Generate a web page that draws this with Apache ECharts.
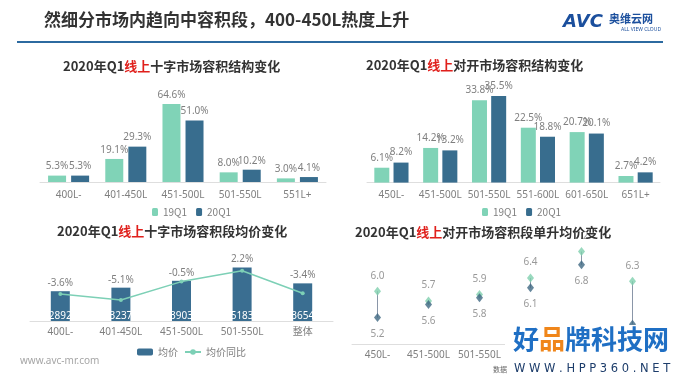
<!DOCTYPE html>
<html><head><meta charset="utf-8">
<script src="https://cdn.jsdelivr.net/npm/echarts@6/dist/echarts.min.js"></script>
<style>html,body{margin:0;padding:0;background:#fff}#c{width:680px;height:383px}</style>
</head><body><div id="c"></div>
<script>
// ---- data ----
const catsA = ['400L-','401-450L','451-500L','501-550L','551L+'];
const shareA19 = [5.3, 19.1, 64.6, 8.0, 3.0];
const shareA20 = [5.3, 29.3, 51.0, 10.2, 4.1];

const catsB = ['450L-','451-500L','501-550L','551-600L','601-650L','651L+'];
const shareB19 = [6.1, 14.2, 33.8, 22.5, 20.7, 2.7];
const shareB20 = [8.2, 13.2, 35.5, 18.8, 20.1, 4.2];

const catsC = ['400L-','401-450L','451-500L','501-550L','整体'];
const priceC = [2892, 3237, 3903, 5183, 3654];
const yoyC = [-3.6, -5.1, -0.5, 2.2, -3.4];

const catsD = ['450L-','451-500L','501-550L','551-600L','601-650L','651L+'];
const unitHighD = [6.0, 5.7, 5.9, 6.4, 7.2, 6.3];
const unitLowD = [5.2, 5.6, 5.8, 6.1, 6.8, 5.0];

// ---- styles ----
const TEAL = '#80d3b7', DARK = '#386d8e', GRAY = '#7f7f7f';
const FONT = "'Noto Sans','Noto Sans CJK SC',sans-serif";
const CJK = "'Noto Sans CJK SC','Noto Sans',sans-serif";

function mkTitle(post, left, top) {
  return {
    text: '{a|2020年Q1}{r|线上}{a|' + post + '}',
    left: left, top: top, padding: 0,
    textStyle: {
      fontFamily: CJK, fontSize: 13, fontWeight: 'bold',
      rich: {
        a: {fontFamily: CJK, fontSize: 13, fontWeight: 'bold', color: '#333'},
        r: {fontFamily: CJK, fontSize: 13, fontWeight: 'bold', color: '#e0201c'}
      }
    }
  };
}
function catAxis(idx, cats, margin) {
  return {
    type: 'category', gridIndex: idx, data: cats,
    axisLine: {show: true, lineStyle: {color: '#dedede', width: 1}},
    axisTick: {show: false},
    axisLabel: {color: GRAY, fontSize: 10, fontFamily: FONT, margin: margin, interval: 0}
  };
}
function valAxis(idx, min, max) {
  return {type: 'value', gridIndex: idx, min: min, max: max, show: false, splitLine: {show: false}};
}
const pctLabel = {show: true, position: 'top', distance: 4, color: GRAY, fontSize: 10, fontFamily: FONT,
  formatter: p => p.value.toFixed(1) + '%'};
const legendText = {color: GRAY, fontSize: 10, fontFamily: CJK};

const chart = echarts.init(document.getElementById('c'), null, {renderer: 'canvas'});
chart.setOption({
  backgroundColor: '#fff',
  animation: false,
  title: [
    mkTitle('十字市场容积结构变化', 63, 60),
    mkTitle('对开市场容积结构变化', 366, 59),
    mkTitle('十字市场容积段均价变化', 57, 225),
    mkTitle('对开市场容积段单升均价变化', 355, 226)
  ],
  legend: [
    {data: ['19Q1', '20Q1'], left: 152, top: 207, itemWidth: 6, itemHeight: 8, itemGap: 9,
      textStyle: legendText, padding: 0, selectedMode: false},
    {data: ['B19Q1', 'B20Q1'], left: 482, top: 207, itemWidth: 6, itemHeight: 8, itemGap: 9,
      textStyle: legendText, padding: 0, selectedMode: false,
      formatter: n => n.slice(1)},
    {data: ['均价', '均价同比'], left: 137, top: 347, itemWidth: 16, itemHeight: 7, itemGap: 6,
      textStyle: legendText, padding: 0, selectedMode: false}
  ],
  grid: [
    {left: 40, width: 286, top: 98, height: 84},
    {left: 367, width: 293, top: 85, height: 97.6},
    {left: 30, width: 303, top: 259.2, height: 61.8},
    {left: 352, width: 306, top: 240, height: 104}
  ],
  xAxis: [
    catAxis(0, catsA, 8),
    catAxis(1, catsB, 8),
    catAxis(2, catsC, 6),
    catAxis(3, catsD, 6)
  ],
  yAxis: [
    valAxis(0, 0, 69.6),
    valAxis(1, 0, 40),
    valAxis(2, 0, 6000),
    valAxis(2, -10.35, 5.1),
    valAxis(3, 4.4, 7.55)
  ],
  series: [
    {name: '19Q1', type: 'bar', xAxisIndex: 0, yAxisIndex: 0, data: shareA19,
      barWidth: 18, barGap: '28%', itemStyle: {color: TEAL}, label: pctLabel},
    {name: '20Q1', type: 'bar', xAxisIndex: 0, yAxisIndex: 0, data: shareA20,
      barWidth: 18, barGap: '28%', itemStyle: {color: DARK}, label: pctLabel},
    {name: 'B19Q1', type: 'bar', xAxisIndex: 1, yAxisIndex: 1, data: shareB19,
      barWidth: 15, barGap: '28%', itemStyle: {color: TEAL}, label: Object.assign({}, pctLabel, {distance: 5})},
    {name: 'B20Q1', type: 'bar', xAxisIndex: 1, yAxisIndex: 1, data: shareB20,
      barWidth: 15, barGap: '28%', itemStyle: {color: DARK}, label: Object.assign({}, pctLabel, {distance: 5})},
    {name: '均价', type: 'bar', xAxisIndex: 2, yAxisIndex: 2, data: priceC, barWidth: 19,
      itemStyle: {color: '#3a6e91'},
      label: {show: true, position: 'insideBottom', distance: 0, color: '#fff', fontSize: 10, fontFamily: FONT}},
    {name: 'yoyLabel', type: 'bar', xAxisIndex: 2, yAxisIndex: 2, data: priceC, barWidth: 19, barGap: '-100%',
      itemStyle: {color: 'rgba(0,0,0,0)'}, silent: true,
      label: {show: true, position: 'top', distance: 3, color: GRAY, fontSize: 10, fontFamily: FONT,
        formatter: p => yoyC[p.dataIndex].toFixed(1) + '%'}},
    {name: '均价同比', type: 'line', xAxisIndex: 2, yAxisIndex: 3, data: yoyC,
      symbol: 'circle', symbolSize: 4, lineStyle: {color: '#7dd0b6', width: 1.5},
      itemStyle: {color: '#7dd0b6'}, z: 5},
    {name: 'range', type: 'custom', xAxisIndex: 3, yAxisIndex: 4,
      data: catsD.map((c, i) => [i, unitLowD[i], unitHighD[i]]),
      encode: {x: 0, y: [1, 2]},
      renderItem: function (params, api) {
        const a = api.coord([api.value(0), api.value(1)]);
        const b = api.coord([api.value(0), api.value(2)]);
        return {type: 'line', shape: {x1: a[0], y1: a[1], x2: b[0], y2: b[1]},
          style: {stroke: '#8a96a8', lineWidth: 1}};
      }, z: 1},
    {name: '高', type: 'scatter', xAxisIndex: 3, yAxisIndex: 4, data: unitHighD,
      symbol: 'diamond', symbolSize: [7, 9], itemStyle: {color: '#7fcfae'}, z: 3,
      labelLayout: {hideOverlap: false},
      label: {show: true, position: 'top', distance: 6, color: GRAY, fontSize: 10, fontFamily: FONT,
        formatter: p => p.value.toFixed(1)}},
    {name: '低', type: 'scatter', xAxisIndex: 3, yAxisIndex: 4, data: unitLowD,
      symbol: 'diamond', symbolSize: [7, 9], itemStyle: {color: '#3f6882'}, z: 3,
      label: {show: true, position: 'bottom', distance: 7, color: GRAY, fontSize: 10, fontFamily: FONT,
        formatter: p => p.value.toFixed(1)}}
  ],
  graphic: [
    {type: 'text', left: 44, top: 11, style: {text: '然细分市场内趋向中容积段，400-450L热度上升',
      fontFamily: CJK, fontSize: 17, fontWeight: 'bold', fill: '#333'}},
    {type: 'line', shape: {x1: 17, y1: 42, x2: 663, y2: 42}, style: {stroke: '#2c6aa0', lineWidth: 2}},
    {type: 'text', left: 563, top: 13, style: {text: 'AVC', fontFamily: "'DejaVu Sans',sans-serif",
      fontSize: 18, fontWeight: 'bold', fontStyle: 'italic', fill: '#1b4f9d'}},
    {type: 'text', left: 609, top: 13, style: {text: '奥维云网', fontFamily: CJK, fontSize: 11,
      fontWeight: 'bold', fill: '#1b4f9d'}},
    {type: 'text', left: 621, top: 27, style: {text: 'ALL VIEW CLOUD', fontFamily: FONT, fontSize: 5,
      fill: '#1b4f9d'}},
    {type: 'text', left: 20, top: 356, style: {text: 'www.avc-mr.com', fontFamily: FONT, fontSize: 10,
      fill: '#a6a6a6'}},
    {type: 'rect', z: 100, shape: {x: 505, y: 325, width: 175, height: 58}, style: {fill: '#fff'}},
    {type: 'text', z: 101, left: 493, top: 366, style: {text: '数据', fontFamily: CJK, fontSize: 7, fill: '#666'}},
    {type: 'text', z: 101, left: 513, top: 326, style: {
      text: '{b|好}{o|品}{b|牌科技网}',
      rich: {
        b: {fontFamily: CJK, fontSize: 26, fontWeight: 'bold', fill: '#1f6fc4', color: '#1f6fc4'},
        o: {fontFamily: CJK, fontSize: 26, fontWeight: 'bold', fill: '#f0861a', color: '#f0861a'}
      }}},
    {type: 'text', z: 101, left: 514, top: 363, style: {text: 'W W W . H P P 3 6 0 . N E T',
      fontFamily: "'DejaVu Sans',sans-serif", fontSize: 11.5, fill: '#1d3d6b'}}
  ]
});
</script></body></html>
